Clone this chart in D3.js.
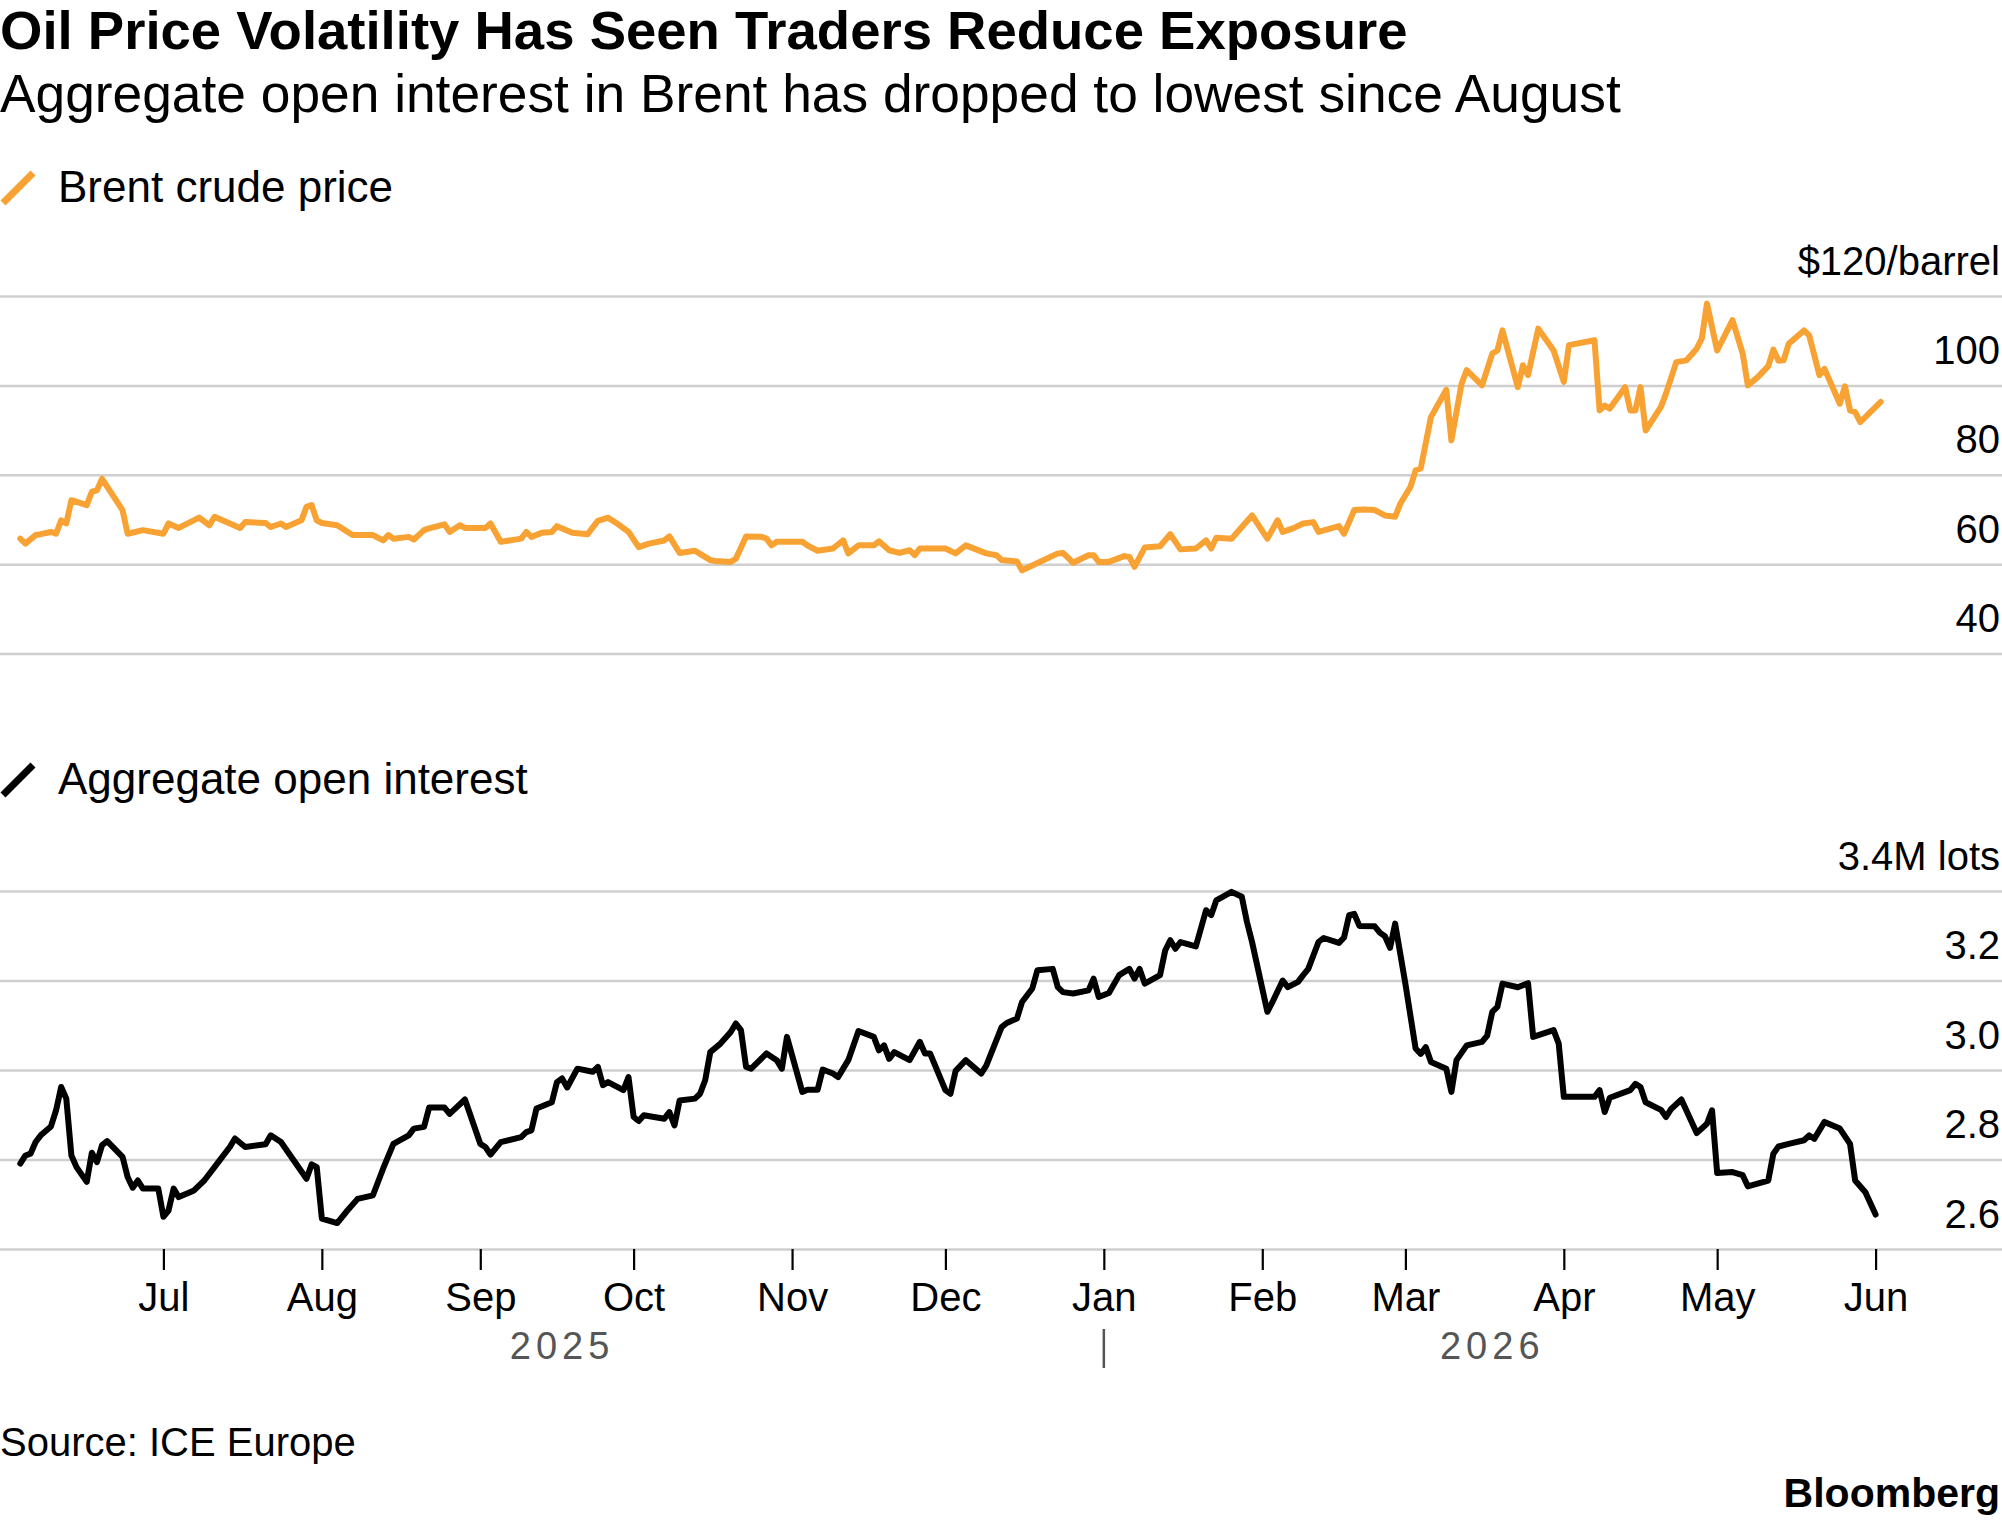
<!DOCTYPE html>
<html>
<head>
<meta charset="utf-8">
<script src="https://cdn.jsdelivr.net/npm/d3@7"></script>
<style>
  html, body { margin: 0; padding: 0; background: #fff; }
  svg { display: block; }
  text { font-family: "Liberation Sans", Arial, sans-serif; }
</style>
</head>
<body>
<svg id="chart" width="2002" height="1524"></svg>
<script>
// ---------------- DATA ----------------
const titleText = "Oil Price Volatility Has Seen Traders Reduce Exposure";
const subtitleText = "Aggregate open interest in Brent has dropped to lowest since August";
const brentLabel = "Brent crude price";
const oiLabel = "Aggregate open interest";
const sourceText = "Source: ICE Europe";

const brentTicks = [40, 60, 80, 100, 120];
const brentTickLabels = ["40", "60", "80", "100", "$120/barrel"];
const oiTicks = [2.6, 2.8, 3.0, 3.2, 3.4];
const oiTickLabels = ["2.6", "2.8", "3.0", "3.2", "3.4M lots"];
const yearLabels = ["2025", "2026"];

const brentDates = ["2025-06-03","2025-06-04","2025-06-06","2025-06-07","2025-06-09","2025-06-10","2025-06-11","2025-06-12","2025-06-13","2025-06-16","2025-06-17","2025-06-18","2025-06-19","2025-06-23","2025-06-24","2025-06-27","2025-07-01","2025-07-02","2025-07-04","2025-07-08","2025-07-10","2025-07-11","2025-07-16","2025-07-17","2025-07-21","2025-07-22","2025-07-24","2025-07-25","2025-07-28","2025-07-29","2025-07-30","2025-07-31","2025-08-01","2025-08-04","2025-08-07","2025-08-11","2025-08-13","2025-08-14","2025-08-15","2025-08-18","2025-08-19","2025-08-21","2025-08-22","2025-08-25","2025-08-26","2025-08-28","2025-08-29","2025-09-02","2025-09-03","2025-09-05","2025-09-09","2025-09-10","2025-09-11","2025-09-13","2025-09-15","2025-09-16","2025-09-19","2025-09-21","2025-09-22","2025-09-24","2025-09-26","2025-09-28","2025-09-30","2025-10-02","2025-10-04","2025-10-07","2025-10-08","2025-10-10","2025-10-13","2025-10-14","2025-10-16","2025-10-17","2025-10-20","2025-10-21","2025-10-23","2025-10-26","2025-10-27","2025-10-28","2025-10-29","2025-11-03","2025-11-04","2025-11-06","2025-11-09","2025-11-11","2025-11-12","2025-11-14","2025-11-17","2025-11-18","2025-11-20","2025-11-22","2025-11-24","2025-11-25","2025-11-26","2025-12-01","2025-12-03","2025-12-05","2025-12-09","2025-12-11","2025-12-12","2025-12-15","2025-12-16","2025-12-18","2025-12-23","2025-12-24","2025-12-26","2025-12-29","2025-12-30","2025-12-31","2026-01-02","2026-01-05","2026-01-06","2026-01-07","2026-01-09","2026-01-12","2026-01-14","2026-01-16","2026-01-19","2026-01-21","2026-01-22","2026-01-23","2026-01-26","2026-01-28","2026-01-30","2026-02-02","2026-02-04","2026-02-05","2026-02-07","2026-02-09","2026-02-11","2026-02-12","2026-02-16","2026-02-17","2026-02-19","2026-02-21","2026-02-23","2026-02-25","2026-02-27","2026-02-28","2026-03-02","2026-03-03","2026-03-04","2026-03-06","2026-03-09","2026-03-10","2026-03-12","2026-03-13","2026-03-16","2026-03-18","2026-03-19","2026-03-20","2026-03-23","2026-03-24","2026-03-25","2026-03-27","2026-03-30","2026-04-01","2026-04-02","2026-04-07","2026-04-08","2026-04-09","2026-04-10","2026-04-13","2026-04-14","2026-04-15","2026-04-16","2026-04-17","2026-04-20","2026-04-21","2026-04-23","2026-04-25","2026-04-27","2026-04-28","2026-04-29","2026-05-01","2026-05-04","2026-05-06","2026-05-07","2026-05-09","2026-05-11","2026-05-12","2026-05-13","2026-05-14","2026-05-15","2026-05-18","2026-05-19","2026-05-21","2026-05-22","2026-05-25","2026-05-26","2026-05-27","2026-05-28","2026-05-29","2026-06-02"];
const brentValues = [65.7,64.6,66.5,66.7,67.2,66.8,69.8,69.1,74.3,73.2,76.2,76.5,79.1,72.1,66.8,67.6,66.8,69.1,68.1,70.4,68.7,70.6,68.1,69.4,69.2,68.3,69.1,68.3,69.8,72.8,73.2,69.8,69.2,68.7,66.5,66.5,65.3,66.5,65.7,66.1,65.5,67.6,68.0,68.9,67.2,68.7,68.1,68.1,69.1,65.0,65.7,67.2,66.1,67.0,67.2,68.5,67.0,66.8,66.7,69.7,70.4,68.9,67.2,63.8,64.6,65.3,66.2,62.5,63.0,62.3,60.9,60.7,60.5,61.2,66.2,66.1,65.7,64.2,65.0,65.0,64.2,63.0,63.5,65.3,62.4,64.2,64.2,65.1,63.1,62.5,63.1,62.0,63.5,63.5,62.4,64.2,62.4,62.0,60.9,60.6,58.6,59.7,62.4,62.5,60.3,62.0,62.0,60.5,60.5,61.8,61.6,59.4,63.7,64.0,66.7,63.3,63.5,65.3,63.5,65.9,65.7,68.3,70.9,65.7,69.8,67.2,68.0,69.1,69.4,67.2,68.5,66.8,72.1,72.2,72.1,70.9,70.6,73.5,77.3,81.0,81.4,92.9,99.0,87.7,100.4,103.4,100.0,107.1,107.8,112.3,99.6,104.5,102.3,112.7,107.8,100.8,109.0,110.1,94.4,95.5,94.8,99.6,94.4,94.4,99.6,89.9,95.2,98.2,105.2,105.6,108.2,110.5,118.3,107.8,114.6,107.1,100.0,101.9,104.3,108.0,105.5,105.6,109.3,112.3,111.2,102.3,103.7,95.9,99.8,94.4,94.0,91.8,96.3];

const oiDates = ["2025-06-03","2025-06-04","2025-06-05","2025-06-06","2025-06-07","2025-06-09","2025-06-10","2025-06-11","2025-06-12","2025-06-13","2025-06-14","2025-06-16","2025-06-17","2025-06-18","2025-06-19","2025-06-20","2025-06-23","2025-06-24","2025-06-25","2025-06-26","2025-06-27","2025-06-30","2025-07-01","2025-07-02","2025-07-03","2025-07-04","2025-07-07","2025-07-08","2025-07-09","2025-07-12","2025-07-14","2025-07-15","2025-07-17","2025-07-21","2025-07-22","2025-07-24","2025-07-29","2025-07-30","2025-07-31","2025-08-01","2025-08-04","2025-08-06","2025-08-08","2025-08-11","2025-08-13","2025-08-15","2025-08-18","2025-08-19","2025-08-21","2025-08-22","2025-08-25","2025-08-26","2025-08-29","2025-09-01","2025-09-02","2025-09-03","2025-09-05","2025-09-09","2025-09-10","2025-09-11","2025-09-12","2025-09-15","2025-09-16","2025-09-17","2025-09-18","2025-09-20","2025-09-23","2025-09-24","2025-09-25","2025-09-26","2025-09-29","2025-09-30","2025-10-01","2025-10-02","2025-10-03","2025-10-07","2025-10-08","2025-10-09","2025-10-10","2025-10-13","2025-10-14","2025-10-15","2025-10-16","2025-10-18","2025-10-20","2025-10-21","2025-10-22","2025-10-23","2025-10-24","2025-10-27","2025-10-29","2025-10-30","2025-10-31","2025-11-03","2025-11-04","2025-11-06","2025-11-07","2025-11-09","2025-11-10","2025-11-12","2025-11-14","2025-11-17","2025-11-18","2025-11-19","2025-11-20","2025-11-21","2025-11-24","2025-11-26","2025-11-27","2025-11-28","2025-12-01","2025-12-02","2025-12-03","2025-12-05","2025-12-08","2025-12-09","2025-12-12","2025-12-13","2025-12-15","2025-12-16","2025-12-18","2025-12-19","2025-12-22","2025-12-23","2025-12-24","2025-12-26","2025-12-29","2025-12-30","2025-12-31","2026-01-02","2026-01-04","2026-01-06","2026-01-07","2026-01-08","2026-01-09","2026-01-12","2026-01-13","2026-01-14","2026-01-15","2026-01-16","2026-01-19","2026-01-21","2026-01-22","2026-01-23","2026-01-26","2026-01-28","2026-01-29","2026-01-30","2026-02-02","2026-02-03","2026-02-05","2026-02-06","2026-02-08","2026-02-09","2026-02-10","2026-02-12","2026-02-13","2026-02-16","2026-02-17","2026-02-18","2026-02-19","2026-02-20","2026-02-23","2026-02-24","2026-02-25","2026-02-26","2026-02-27","2026-03-01","2026-03-03","2026-03-04","2026-03-05","2026-03-06","2026-03-09","2026-03-10","2026-03-11","2026-03-13","2026-03-16","2026-03-17","2026-03-18","2026-03-19","2026-03-20","2026-03-23","2026-03-25","2026-03-26","2026-03-30","2026-03-31","2026-04-01","2026-04-07","2026-04-08","2026-04-09","2026-04-10","2026-04-14","2026-04-15","2026-04-16","2026-04-17","2026-04-20","2026-04-21","2026-04-22","2026-04-24","2026-04-27","2026-04-29","2026-04-30","2026-05-01","2026-05-04","2026-05-06","2026-05-07","2026-05-11","2026-05-12","2026-05-13","2026-05-15","2026-05-18","2026-05-19","2026-05-20","2026-05-22","2026-05-25","2026-05-27","2026-05-28","2026-05-30","2026-06-01"];
const oiValues = [2.791,2.809,2.813,2.839,2.854,2.874,2.91,2.962,2.936,2.809,2.783,2.75,2.815,2.794,2.832,2.841,2.806,2.761,2.737,2.753,2.735,2.735,2.672,2.686,2.735,2.716,2.731,2.742,2.753,2.798,2.828,2.847,2.828,2.834,2.854,2.839,2.757,2.789,2.783,2.668,2.658,2.686,2.712,2.72,2.78,2.835,2.854,2.869,2.873,2.916,2.916,2.902,2.934,2.835,2.828,2.811,2.839,2.85,2.861,2.865,2.914,2.928,2.973,2.981,2.961,3.003,2.996,3.007,2.966,2.973,2.955,2.984,2.895,2.886,2.899,2.891,2.906,2.876,2.932,2.936,2.947,2.977,3.04,3.059,3.085,3.104,3.089,3.007,3.003,3.037,3.022,3.003,3.074,2.951,2.956,2.956,3.001,2.992,2.984,3.022,3.087,3.074,3.044,3.055,3.025,3.04,3.022,3.063,3.037,3.037,2.955,2.947,2.998,3.022,2.992,3.01,3.096,3.105,3.115,3.152,3.182,3.223,3.226,3.185,3.174,3.171,3.178,3.204,3.163,3.172,3.212,3.226,3.204,3.226,3.193,3.212,3.267,3.29,3.271,3.286,3.276,3.357,3.346,3.379,3.398,3.387,3.331,3.286,3.13,3.152,3.2,3.185,3.197,3.212,3.226,3.286,3.295,3.284,3.296,3.346,3.349,3.322,3.321,3.307,3.299,3.273,3.327,3.193,3.048,3.036,3.051,3.018,3.003,2.951,3.022,3.055,3.063,3.077,3.13,3.141,3.193,3.185,3.194,3.074,3.089,3.059,2.94,2.94,2.955,2.906,2.938,2.955,2.969,2.962,2.928,2.911,2.895,2.913,2.934,2.859,2.88,2.91,2.77,2.772,2.765,2.74,2.753,2.813,2.829,2.835,2.843,2.854,2.846,2.884,2.869,2.835,2.753,2.727,2.677];

// ---------------- DRAW ----------------
const W = 2002, H = 1524;
const FONT = '"Liberation Sans", Arial, sans-serif';
const ORANGE = "#f7a233";
const GRID = "#cfcfcf";
const parse = d3.utcParse("%Y-%m-%d");

const brent = brentDates.map((d, i) => ({ date: parse(d), v: brentValues[i] }));
const oi = oiDates.map((d, i) => ({ date: parse(d), v: oiValues[i] }));

const svg = d3.select("#chart");
svg.append("rect").attr("width", W).attr("height", H).attr("fill", "#fff");

const x = d3.scaleUtc()
  .domain([new Date(Date.UTC(2025, 6, 1)), new Date(Date.UTC(2026, 5, 1))])
  .range([163.4, 1875.6]);
const yTop = d3.scaleLinear().domain([40, 120]).range([653.5, 296]);
const yBot = d3.scaleLinear().domain([2.6, 3.4]).range([1249, 891]);

// Title / subtitle
svg.append("text").attr("x", 0).attr("y", 49)
  .attr("font-size", 54.5).attr("font-weight", "bold").attr("fill", "#000")
  .text(titleText);
svg.append("text").attr("x", 0).attr("y", 112)
  .attr("font-size", 53.3).attr("fill", "#000")
  .text(subtitleText);

// Legends
function legend(yBase, color, label) {
  svg.append("line")
    .attr("x1", 3).attr("y1", yBase + 1).attr("x2", 33).attr("y2", yBase - 29)
    .attr("stroke", color).attr("stroke-width", 7);
  svg.append("text").attr("x", 58).attr("y", yBase)
    .attr("font-size", 44).attr("fill", "#000").text(label);
}
legend(202, ORANGE, brentLabel);
legend(794, "#000", oiLabel);

// Y axes with gridlines
function yAxis(scale, ticks, labels) {
  const g = svg.append("g")
    .call(d3.axisRight(scale).tickValues(ticks).tickSize(W)
      .tickFormat((d, i) => labels[i]));
  g.select(".domain").remove();
  g.selectAll(".tick line").attr("stroke", GRID).attr("stroke-width", 2.5);
  g.selectAll(".tick text")
    .attr("x", W - 2).attr("dy", -22)
    .attr("text-anchor", "end")
    .attr("font-family", FONT).attr("font-size", 40).attr("fill", "#000");
  return g;
}
yAxis(yTop, brentTicks, brentTickLabels);
yAxis(yBot, oiTicks, oiTickLabels);

// X axis (bottom panel)
const months = d3.utcMonth.range(new Date(Date.UTC(2025, 6, 1)), new Date(Date.UTC(2026, 5, 2)));
const gx = svg.append("g").attr("transform", `translate(0,${yBot(2.6)})`)
  .call(d3.axisBottom(x).tickValues(months).tickSize(21).tickPadding(13)
    .tickFormat(d3.utcFormat("%b")));
gx.select(".domain").remove();
gx.selectAll(".tick line").attr("stroke", "#000").attr("stroke-width", 2.2);
gx.selectAll(".tick text")
  .attr("font-family", FONT).attr("font-size", 40).attr("fill", "#000");

// Year labels and separator
const jan1 = new Date(Date.UTC(2026, 0, 1));
const firstDate = brent[0].date, lastDate = brent[brent.length - 1].date;
svg.append("line")
  .attr("x1", x(jan1)).attr("x2", x(jan1)).attr("y1", 1329).attr("y2", 1368)
  .attr("stroke", "#555").attr("stroke-width", 2.5);
[[firstDate, jan1], [jan1, lastDate]].forEach((r, i) => {
  svg.append("text")
    .attr("x", (x(r[0]) + x(r[1])) / 2).attr("y", 1359)
    .attr("text-anchor", "middle").attr("font-size", 38)
    .attr("letter-spacing", 5).attr("fill", "#555")
    .text(yearLabels[i]);
});

// Lines
const lineTop = d3.line().x(d => x(d.date)).y(d => yTop(d.v));
const lineBot = d3.line().x(d => x(d.date)).y(d => yBot(d.v));
svg.append("path").datum(brent).attr("d", lineTop)
  .attr("fill", "none").attr("stroke", ORANGE).attr("stroke-width", 6)
  .attr("stroke-linejoin", "round").attr("stroke-linecap", "round");
svg.append("path").datum(oi).attr("d", lineBot)
  .attr("fill", "none").attr("stroke", "#000").attr("stroke-width", 6)
  .attr("stroke-linejoin", "round").attr("stroke-linecap", "round");

// Footer
svg.append("text").attr("x", 0).attr("y", 1456)
  .attr("font-size", 40).attr("fill", "#000").text(sourceText);
svg.append("text").attr("x", 2000).attr("y", 1507)
  .attr("text-anchor", "end").attr("font-size", 41).attr("font-weight", "bold")
  .attr("fill", "#000").text("Bloomberg");
</script>
</body>
</html>
